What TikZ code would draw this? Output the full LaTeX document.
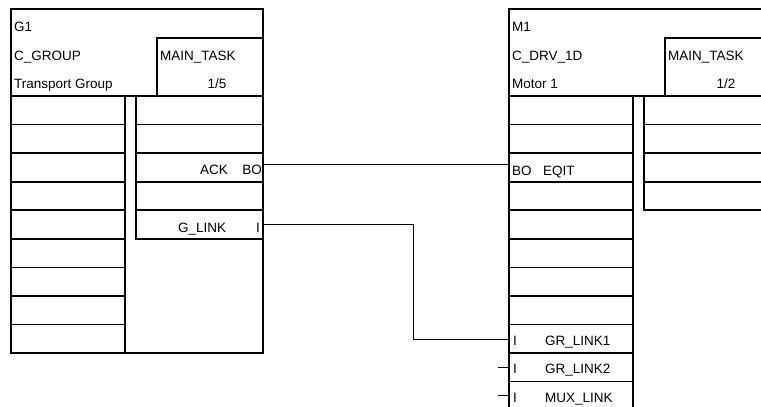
\documentclass[tikz,border=0pt]{standalone}
\usepackage{fontspec}
\setmainfont{Liberation Sans}

\tikzset{
    blk/.style={line width=1.7pt},
    wire/.style={line width=0.9pt},
    txt/.style={inner sep=0pt, anchor=base west, font=\fontsize{13.5}{15}\selectfont},
}

\begin{document}
\begin{tikzpicture}[x=1pt, y=-1pt, line cap=rect, line join=miter]
    \useasboundingbox (0,0) rectangle (761,407);
    \clip (0,0) rectangle (761,407);

    % G1 ブロック
    \begin{scope}[blk]
        \draw (11,9) rectangle (263,353);
        \draw (11,96) -- (263,96);
        \draw (157,96) |- (263,38); % MAIN_TASK
        \draw (11,96) rectangle (125,353);
        \foreach \k in {1,...,8}
            \draw (11,96+\k*28.56) -- (125,96+\k*28.56);
        \draw (136,96) rectangle (263,238.8);
        \foreach \k in {1,...,4}
            \draw (136,96+\k*28.56) -- (263,96+\k*28.56);
    \end{scope}

    % M1 ブロック
    \begin{scope}[blk]
        \draw (509,9) rectangle (771,460);
        \draw (509,96) -- (771,96);
        \draw (665,96) |- (771,38); % MAIN_TASK
        \draw (509,96) rectangle (633,460);
        \foreach \k in {1,...,12}
            \draw (509,96+\k*28.56) -- (633,96+\k*28.56);
        \draw (644,96) rectangle (771,210.2);
        \foreach \k in {1,...,3}
            \draw (644,96+\k*28.56) -- (771,96+\k*28.56);
    \end{scope}

    % テキスト
    \node[txt] (g1name) at (14,31) {G1};
    \node[txt] (g1type) at (14,60) {C\_GROUP};
    \node[txt] (g1desc) at (14,88) {Transport Group};
    \node[txt] (g1task) at (160,60) {MAIN\_TASK};
    \node[txt, anchor=base] (g1cyc) at (217,88) {1/5};
    \node[txt] (g1ack) at (200,174) {ACK};
    \node[txt, anchor=base east] (g1ackbo) at (262,174) {BO};
    \node[txt] (g1link) at (178,232) {G\_LINK};
    \node[txt] (g1linki) at (256,232) {I};

    \node[txt] (m1name) at (512,31) {M1};
    \node[txt] (m1type) at (512,60) {C\_DRV\_1D};
    \node[txt] (m1desc) at (512,88) {Motor 1};
    \node[txt] (m1task) at (668,60) {MAIN\_TASK};
    \node[txt, anchor=base] (m1cyc) at (726,88) {1/2};
    \node[txt] (m1eqitbo) at (512,175) {BO};
    \node[txt] (m1eqit) at (543,175) {EQIT};
    \node[txt] (m1gr1i) at (513,345) {I};
    \node[txt] (m1gr1) at (545,345) {GR\_LINK1};
    \node[txt] (m1gr2i) at (513,373) {I};
    \node[txt] (m1gr2) at (545,373) {GR\_LINK2};
    \node[txt] (m1muxi) at (513,402) {I};
    \node[txt] (m1mux) at (545,402) {MUX\_LINK};

    % 接続点
    \coordinate (g1ackout) at (263,164);
    \coordinate (g1linkout) at (263,224);
    \coordinate (m1eqitin) at (509,164);
    \coordinate (m1gr1in) at (509,339);
    \coordinate (m1gr2in) at (509,367);
    \coordinate (m1muxin) at (509,395);

    % 配線
    \draw[wire] (g1ackout) -- (m1eqitin);
    \draw[wire] (g1linkout) -- ++(150,0) |- (m1gr1in);
    \draw[wire] (m1gr2in) -- ++(-11,0);
    \draw[wire] (m1muxin) -- ++(-11,0);
\end{tikzpicture}
\end{document}
